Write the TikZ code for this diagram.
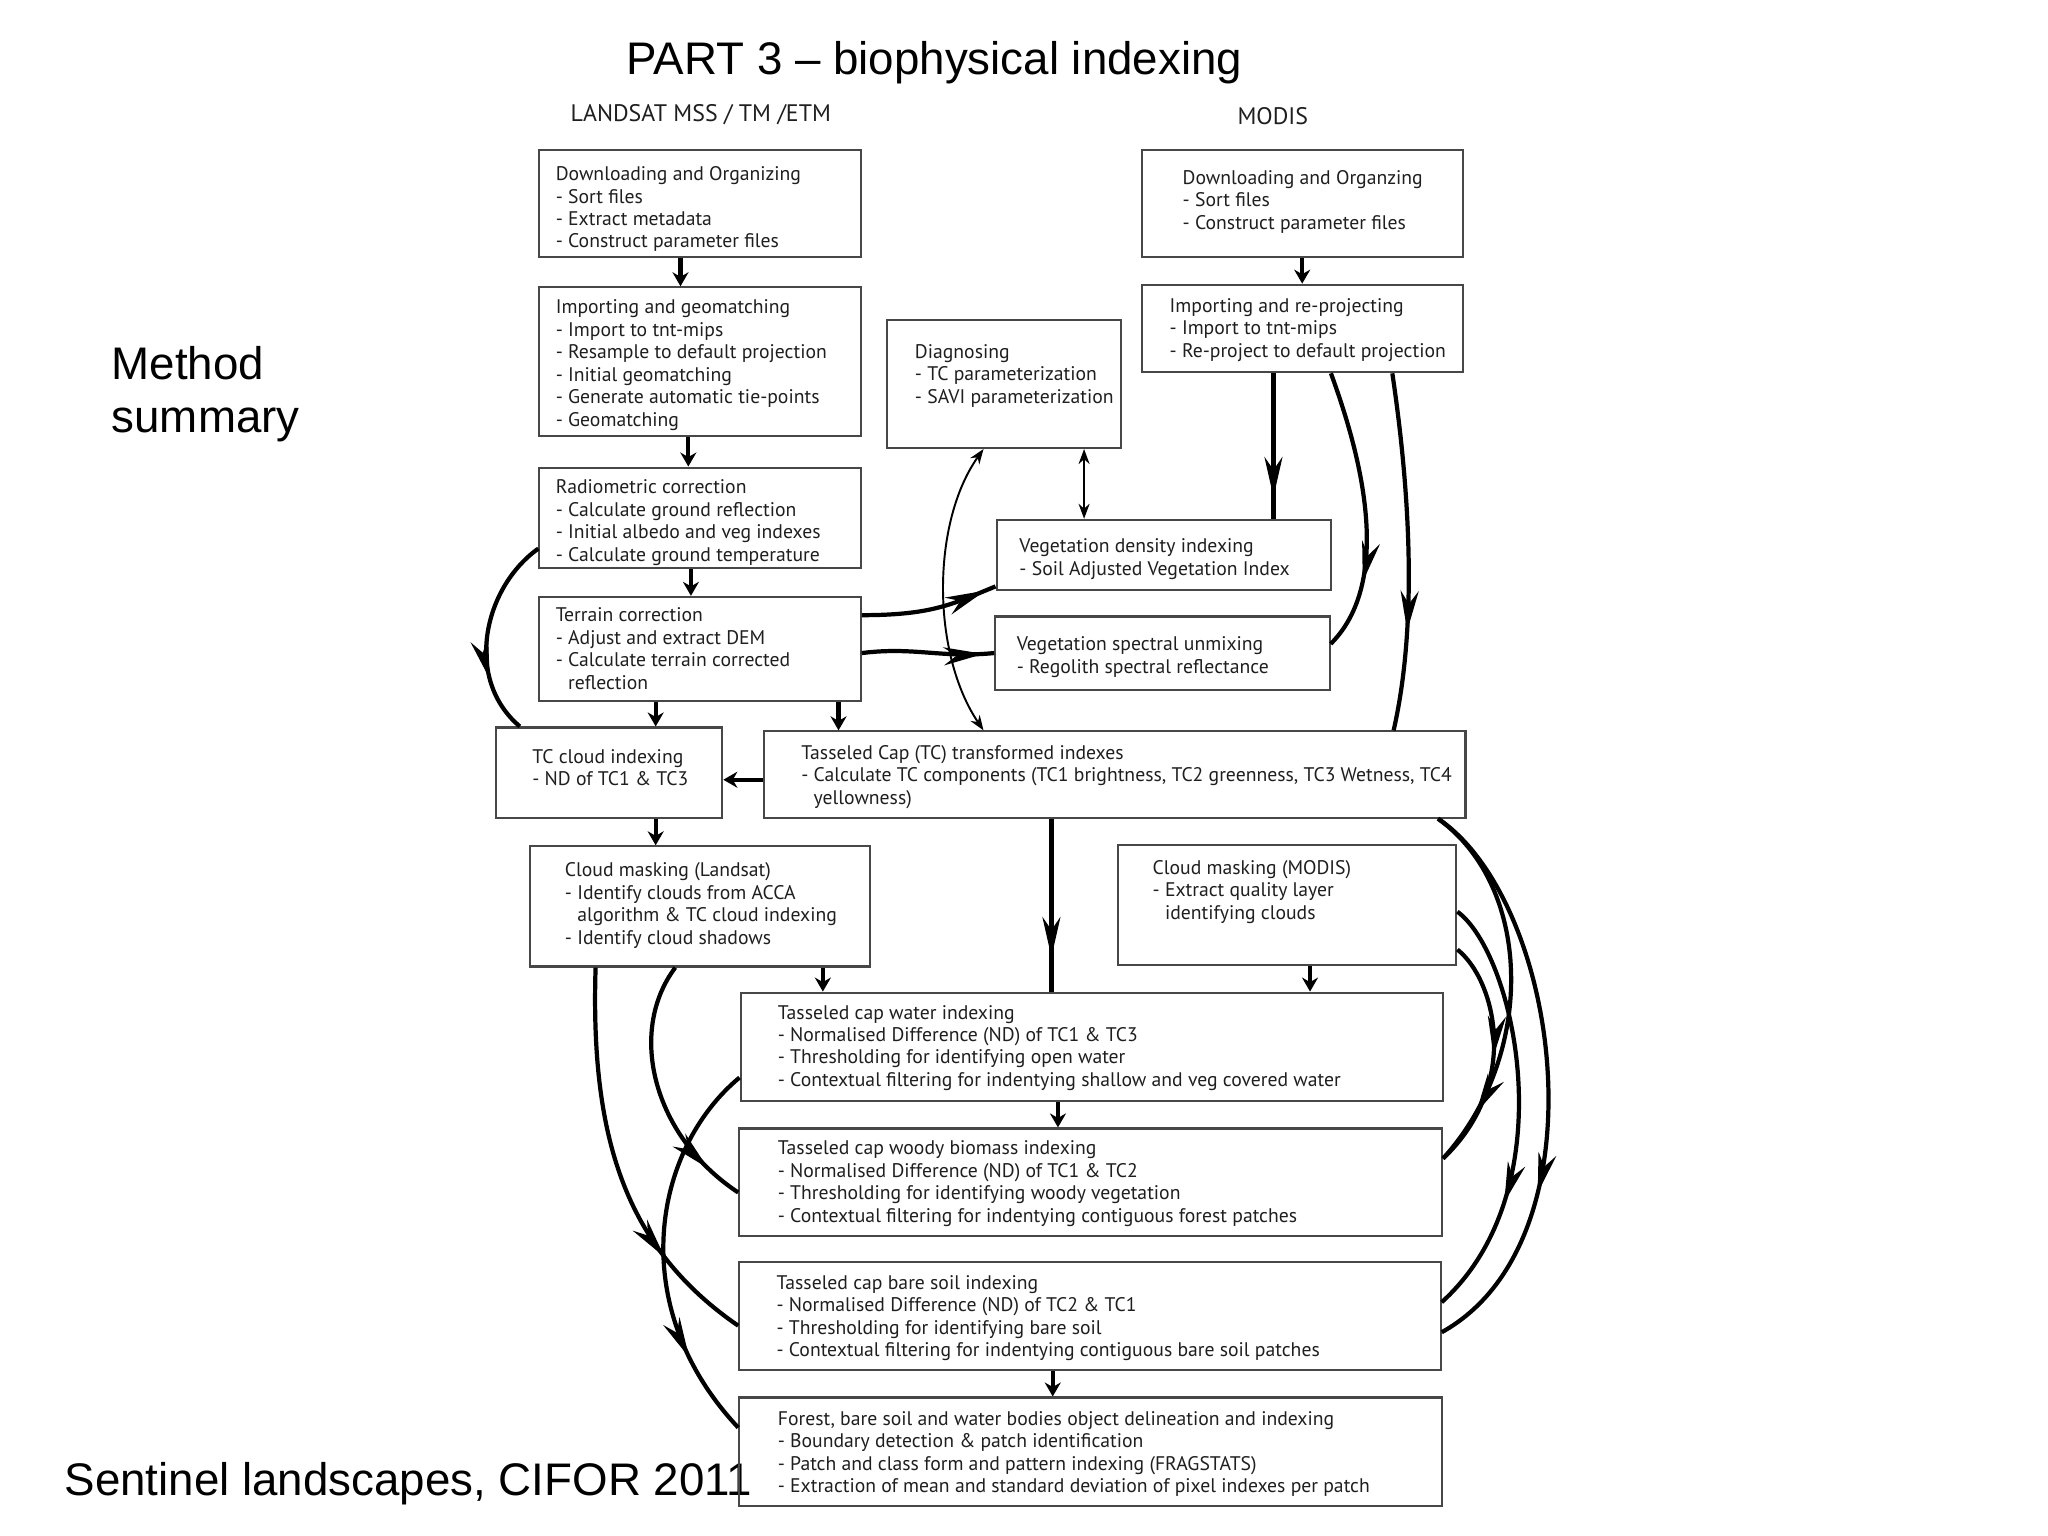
\documentclass[tikz,border=0pt]{standalone}
\usepackage{fontspec}
\setmainfont{Liberation Sans}
\newfontfamily\boxfont{PT Sans}
\usetikzlibrary{arrows.meta,decorations.markings,fit}
\begin{document}
\begin{tikzpicture}[x=0.013061cm,y=-0.013061cm,
  box/.style={draw=black!72, line width=0.6pt, inner sep=0pt},
  txt/.style={font=\boxfont\fontsize{5.6}{6.39}\selectfont, align=left, inner sep=0pt, anchor=north west, text=black!88},
  lbl/.style={font=\boxfont\fontsize{6.8}{8}\selectfont, inner sep=0pt, text=black!88},
  big/.style={font=\fontsize{13}{15}\selectfont, inner sep=0pt},
  flow/.style={line width=1.2pt, black},
  sarr/.style={flow, -{Stealth[length=1.4mm,width=1.6mm]}},
  spindle/.style={postaction={decorate, decoration={markings, mark=at position #1 with {\arrow{Stealth[length=4mm,width=1.8mm]}}}}},
  thinarr/.style={line width=0.55pt, black, {Stealth[length=1.5mm,width=1.1mm]}-{Stealth[length=1.5mm,width=1.1mm]}}
]
\fill[white] (0,0) rectangle (1568,1176);
\useasboundingbox (0,0) rectangle (1568,1176);

% titles
\node[big] (title) at (715.5,48) {PART 3 – biophysical indexing};
\node[big, anchor=west, align=left] (method) at (85,302) {Method\\summary};
\node[big, anchor=west] (source) at (49,1136) {Sentinel landscapes, CIFOR 2011};
\node[lbl] (landsat) at (536.5,88) {LANDSAT MSS / TM /ETM};
\node[lbl] (modis) at (974.5,89) {MODIS};

% boxes
\node[box, fit={(413,115) (659,197)}] (b1) {};
\node[box, fit={(413,220) (659,334)}] (b2) {};
\node[box, fit={(413,358) (659,435)}] (b3) {};
\node[box, fit={(413,457) (659,537)}] (b4) {};
\node[box, fit={(380,557) (553,626)}] (b5) {};
\node[box, fit={(585,560) (1122,626)}] (b6) {};
\node[box, fit={(406,648) (666,740)}] (b7) {};
\node[box, fit={(856,647) (1115,739)}] (b8) {};
\node[box, fit={(567,760) (1105,843)}] (b9) {};
\node[box, fit={(566,864) (1104,946)}] (b10) {};
\node[box, fit={(566,966) (1103,1049)}] (b11) {};
\node[box, fit={(566,1070) (1104,1153)}] (b12) {};
\node[box, fit={(874,115) (1120,197)}] (m1) {};
\node[box, fit={(874,218) (1120,285)}] (m2) {};
\node[box, fit={(679,245) (858,343)}] (d) {};
\node[box, fit={(763,398) (1019,452)}] (v1) {};
\node[box, fit={(762,472) (1018,528)}] (v2) {};

% texts
\node[txt] (b1t) at (425,127) {Downloading and Organizing\\- Sort files\\- Extract metadata\\- Construct parameter files};
\node[txt] (b2t) at (425,229) {Importing and geomatching\\- Import to tnt-mips\\- Resample to default projection\\- Initial geomatching\\- Generate automatic tie-points\\- Geomatching};
\node[txt] (b3t) at (425,367) {Radiometric correction\\- Calculate ground reflection\\- Initial albedo and veg indexes\\- Calculate ground temperature};
\node[txt] (b4t) at (425,465) {Terrain correction\\- Adjust and extract DEM\\- Calculate terrain corrected\\\hphantom{- }reflection};
\node[txt] (b5t) at (407,573) {TC cloud indexing\\- ND of TC1 \& TC3};
\node[txt] (b6t) at (613,570) {Tasseled Cap (TC) transformed indexes\\- Calculate TC components (TC1 brightness, TC2 greenness, TC3 Wetness, TC4\\\hphantom{- }yellowness)};
\node[txt] (b7t) at (432,660) {Cloud masking (Landsat)\\- Identify clouds from ACCA\\\hphantom{- }algorithm \& TC cloud indexing\\- Identify cloud shadows};
\node[txt] (b8t) at (882,658) {Cloud masking (MODIS)\\- Extract quality layer\\\hphantom{- }identifying clouds};
\node[txt] (b9t) at (595,769) {Tasseled cap water indexing\\- Normalised Difference (ND) of TC1 \& TC3\\- Thresholding for identifying open water\\- Contextual filtering for indentying shallow and veg covered water};
\node[txt] (b10t) at (595,873) {Tasseled cap woody biomass indexing\\- Normalised Difference (ND) of TC1 \& TC2\\- Thresholding for identifying woody vegetation\\- Contextual filtering for indentying contiguous forest patches};
\node[txt] (b11t) at (594,976) {Tasseled cap bare soil indexing\\- Normalised Difference (ND) of TC2 \& TC1\\- Thresholding for identifying bare soil\\- Contextual filtering for indentying contiguous bare soil patches};
\node[txt] (b12t) at (595,1080) {Forest, bare soil and water bodies object delineation and indexing\\- Boundary detection \& patch identification\\- Patch and class form and pattern indexing (FRAGSTATS)\\- Extraction of mean and standard deviation of pixel indexes per patch};
\node[txt] (m1t) at (905,130) {Downloading and Organzing\\- Sort files\\- Construct parameter files};
\node[txt] (m2t) at (895,228) {Importing and re-projecting\\- Import to tnt-mips\\- Re-project to default projection};
\node[txt] (dt) at (700,263) {Diagnosing\\- TC parameterization\\- SAVI parameterization};
\node[txt] (v1t) at (780,412) {Vegetation density indexing\\- Soil Adjusted Vegetation Index};
\node[txt] (v2t) at (778,487) {Vegetation spectral unmixing\\- Regolith spectral reflectance};

% short arrows
\draw[sarr] (b1.south -| 521,0) -- (b2.north -| 521,0);
\draw[sarr] (b2.south -| 527,0) -- (b3.north -| 527,0);
\draw[sarr] (b3.south -| 529,0) -- (b4.north -| 529,0);
\draw[sarr] (b4.south -| 502,0) -- (b5.north -| 502,0);
\draw[sarr] (b4.south -| 642,0) -- (b6.north -| 642,0);
\draw[sarr] (b6.west |- 0,597) -- (b5.east |- 0,597);
\draw[sarr] (b5.south -| 502,0) -- (b7.north -| 502,0);
\draw[sarr] (b7.south -| 630,0) -- (b9.north -| 630,0);
\draw[sarr] (b8.south -| 1003,0) -- (b9.north -| 1003,0);
\draw[sarr] (b9.south -| 810,0) -- (b10.north -| 810,0);
\draw[sarr] (b11.south -| 806,0) -- (b12.north -| 806,0);
\draw[sarr] (m1.south -| 997,0) -- (m2.north -| 997,0);

% long arrows
\draw[flow, spindle=0.8] (b6.south -| 805,0) -- (b9.north -| 805,0);
\draw[flow, spindle=0.85] (m2.south -| 975,0) -- (v1.north -| 975,0);
\draw[flow, spindle=0.75] (m2.south -| 1019,0) .. controls (1035,330) and (1072,440) .. (v2.east |- 0,493);
\draw[flow, spindle=0.72] (m2.south -| 1066,0) .. controls (1080,380) and (1085,480) .. (b6.north -| 1067,0);
\draw[flow, spindle=0.92] (b4.east |- 0,471) .. controls (715,471) and (730,462) .. (v1.west |- 0,449);
\draw[flow, spindle=0.92] (b4.east |- 0,500) .. controls (700,495) and (720,504) .. (v2.west |- 0,500);

% thin double arrows
\draw[thinarr] (d.south -| 830,0) -- (v1.north -| 830,0);
\draw[thinarr] (d.south -| 753,0) .. controls (713,400) and (713,500) .. (b6.north -| 753,0);

% left curves
\draw[flow, spindle=0.72] (b3.west |- 0,420) .. controls (370,450) and (355,520) .. (b5.north -| 398,0);
\draw[flow, spindle=0.75] (b7.south -| 456,0) .. controls (452,870) and (478,955) .. (b11.west |- 0,1015);
\draw[flow, spindle=0.85] (b7.south -| 517,0) .. controls (480,790) and (500,870) .. (b10.west |- 0,913);
\draw[flow, spindle=0.78] (b9.west |- 0,825) .. controls (500,880) and (478,1000) .. (b12.west |- 0,1093);

% right curves
\draw[flow, spindle=0.7] (b6.south -| 1101,0) .. controls (1195,690) and (1230,950) .. (b11.east |- 0,1020);
\draw[flow, spindle=0.72] (b8.east |- 0,698) .. controls (1160,730) and (1200,910) .. (b11.east |- 0,997);
\draw[flow, spindle=0.85] (b6.south -| 1101,0) .. controls (1175,680) and (1175,810) .. (b10.east |- 0,887);
\draw[flow, spindle=0.5] (b8.east |- 0,727) .. controls (1145,750) and (1165,830) .. (b10.east |- 0,887);
\end{tikzpicture}
\end{document}
